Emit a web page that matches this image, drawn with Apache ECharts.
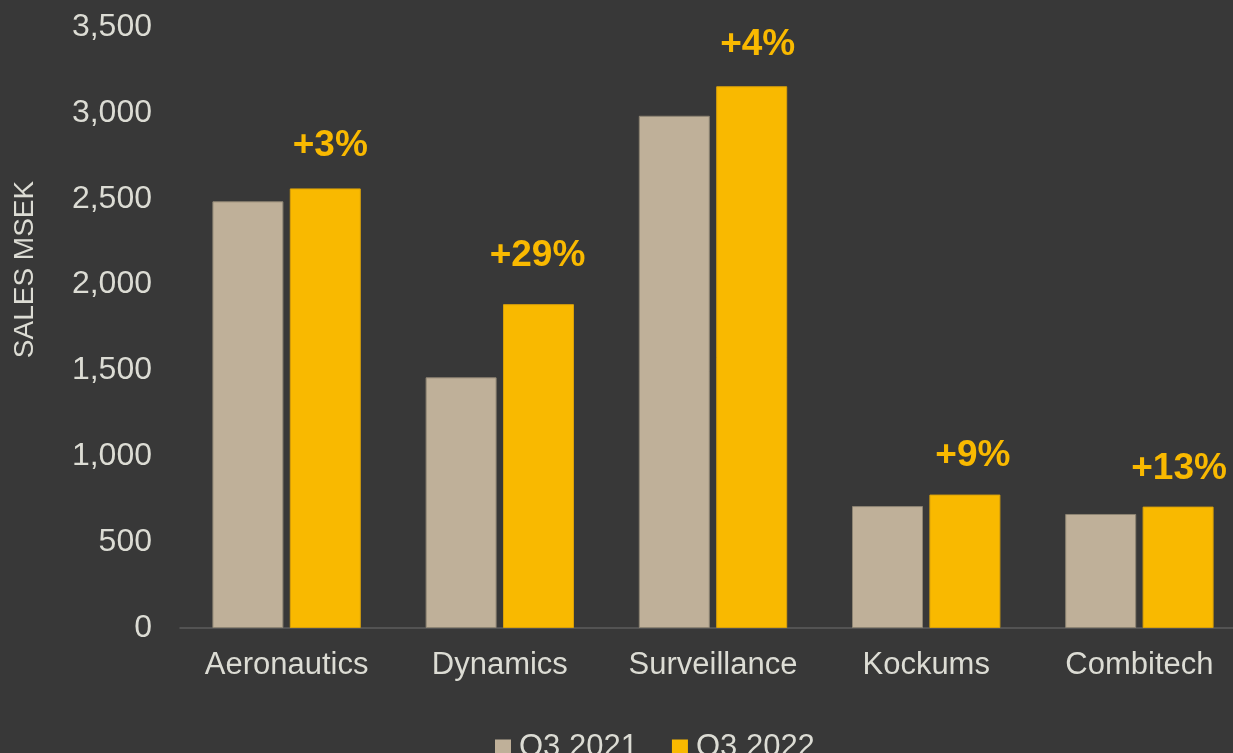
<!DOCTYPE html>
<html>
<head>
<meta charset="utf-8">
<script src="https://cdn.jsdelivr.net/npm/echarts@6/dist/echarts.min.js"></script>
<style>
html,body{margin:0;padding:0;background:#383838;}
#chart{width:1233px;height:753px;}
</style>
</head>
<body>
<div id="chart"></div>
<script>
const categories = ['Aeronautics', 'Dynamics', 'Surveillance', 'Kockums', 'Combitech'];
const seriesNames = ['Q3 2021', 'Q3 2022'];
const sales2021 = [2485, 1460, 2983, 710, 664];
const sales2022 = [2560, 1886, 3155, 777, 707];
const growthLabels = ['+3%', '+29%', '+4%', '+9%', '+13%'];
const yTicks = { min: 0, max: 3500, interval: 500 };

// label placement tweaks (style only)
const labelOffsets = [[5, -2], [-1, -8], [6, -1], [8, 2], [1, 3]];

const textColor = '#dcdcd4';
const chart = echarts.init(document.getElementById('chart'), null, { renderer: 'canvas' });

chart.setOption({
  backgroundColor: '#383838',
  animation: false,
  textStyle: { fontFamily: 'Liberation Sans, Arial, sans-serif' },
  grid: { left: 180, top: 27, width: 1066, bottom: 125, containLabel: false, outerBoundsMode: 'none' },
  legend: {
    data: seriesNames,
    left: 490,
    top: 727,
    itemWidth: 16,
    itemHeight: 16,
    itemGap: 34,
    icon: 'rect',
    itemStyle: { borderWidth: 0 },
    textStyle: { color: textColor, fontSize: 31, padding: [0, 0, 0, 3] }
  },
  xAxis: {
    type: 'category',
    data: categories,
    axisLine: { lineStyle: { color: '#5c5c5c', width: 1.5 } },
    axisTick: { show: false },
    axisLabel: { color: textColor, fontSize: 31, margin: 22, interval: 0 }
  },
  yAxis: {
    type: 'value',
    min: yTicks.min,
    max: yTicks.max,
    interval: yTicks.interval,
    name: 'SALES MSEK',
    nameLocation: 'middle',
    nameGap: 141,
    nameTextStyle: { color: textColor, fontSize: 28, padding: [0, 0, 0, 116] },
    axisLine: { show: false },
    axisTick: { show: false },
    splitLine: { show: false },
    axisLabel: {
      color: textColor,
      fontSize: 32,
      margin: 28,
      formatter: v => v.toLocaleString('en-US')
    }
  },
  series: [
    {
      name: seriesNames[0],
      type: 'bar',
      data: sales2021,
      barWidth: 71,
      barGap: '9%',
      itemStyle: { color: '#bfb099', borderColor: '#8d8473', borderWidth: 1 }
    },
    {
      name: seriesNames[1],
      type: 'bar',
      data: sales2022.map((v, i) => ({
        value: v,
        label: { offset: labelOffsets[i] }
      })),
      barWidth: 71,
      itemStyle: { color: '#f9b900', borderColor: '#d9a10a', borderWidth: 1 },
      label: {
        show: true,
        position: 'top',
        distance: 22,
        color: '#f9b900',
        fontSize: 37,
        fontWeight: 'bold',
        formatter: p => growthLabels[p.dataIndex]
      }
    }
  ]
});
</script>
</body>
</html>
